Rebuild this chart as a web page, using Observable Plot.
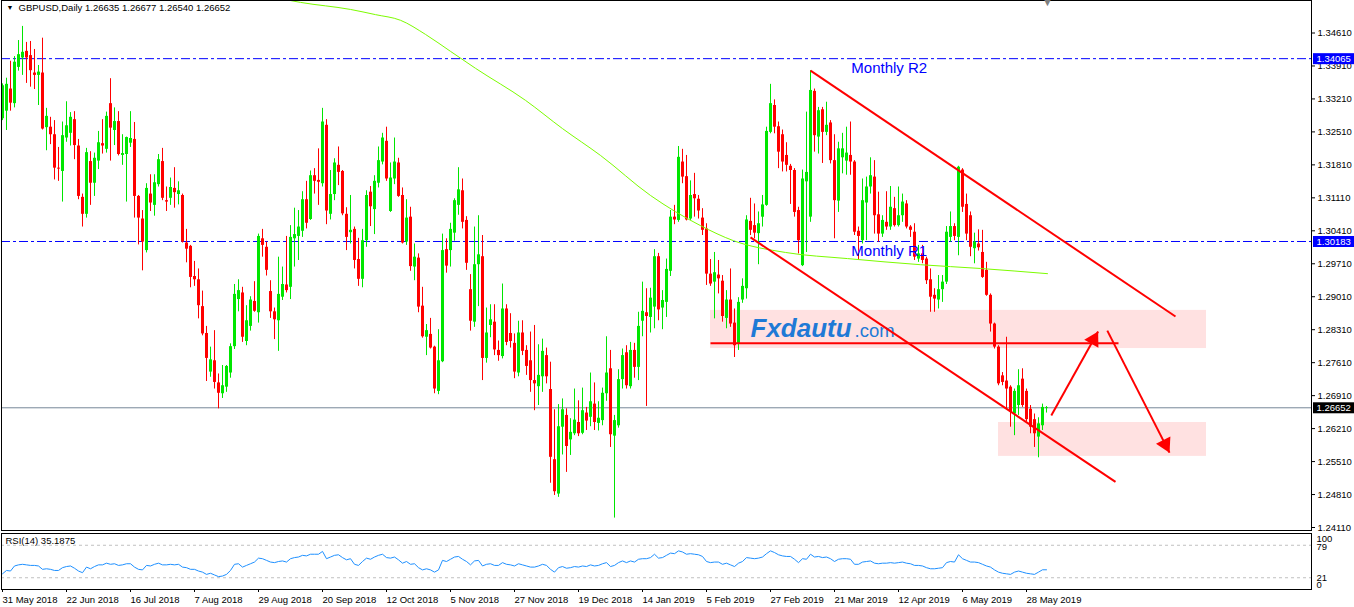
<!DOCTYPE html>
<html><head><meta charset="utf-8">
<script src="https://cdn.jsdelivr.net/npm/d3@7"></script>
<script src="https://cdn.jsdelivr.net/npm/@observablehq/plot@0.6"></script>
<style>
html,body{margin:0;padding:0;background:#fff;}
#chart{position:relative;width:1354px;height:607px;overflow:hidden;}
#chart svg{position:absolute;left:0;}
</style></head><body><div id="chart"></div>
<script>
// ---------- DATA ----------
const opens = [
1.3279,1.3295,1.3342,1.3311,1.3388,1.3408,1.3422,1.3413,1.3376,1.3371,
1.3376,1.3260,1.3261,1.3245,1.3174,1.3167,1.3238,1.3248,1.3277,1.3221,
1.3112,1.3076,1.3188,1.3142,1.3189,1.3226,1.3214,1.3311,1.3254,1.3273,
1.3201,1.3203,1.3227,1.3235,1.3114,1.3066,1.2999,1.3119,1.3095,1.3139,
1.3188,1.3105,1.3110,1.3131,1.3118,1.3116,1.3015,1.3008,1.2944,1.2937,
1.2880,1.2823,1.2741,1.2765,1.2718,1.2695,1.2709,1.2739,1.2795,1.2895,
1.2909,1.2806,1.2838,1.2891,1.2867,1.3024,1.3006,1.2912,1.2869,1.2850,
1.2900,1.2926,1.2921,1.3024,1.3029,1.3040,1.3107,1.3065,1.3158,1.3148,
1.3141,1.3265,1.3076,1.3118,1.3180,1.3167,1.3076,1.3037,1.3044,1.2980,
1.2938,1.3020,1.3123,1.3086,1.3142,1.3187,1.3231,1.3082,1.3151,1.3185,
1.3116,1.3017,1.3070,1.2964,1.2983,1.2881,1.2815,1.2821,1.2794,1.2700,
1.2763,1.3001,1.2999,1.3036,1.3095,1.3126,1.3063,1.2916,1.2847,1.2969,
1.2986,1.2770,1.2840,1.2847,1.2787,1.2774,1.2875,1.2823,1.2802,1.2739,
1.2824,1.2787,1.2765,1.2723,1.2710,1.2731,1.2776,1.2704,1.2555,1.2482,
1.2624,1.2649,1.2597,1.2610,1.2634,1.2611,1.2654,1.2645,1.2673,1.2632,
1.2638,1.2695,1.2748,1.2605,1.2627,1.2725,1.2782,1.2710,1.2787,1.2751,
1.2849,1.2867,1.2857,1.2879,1.2986,1.2877,1.2889,1.2955,1.3070,1.3063,
1.3187,1.3156,1.3066,1.3118,1.3108,1.3068,1.3045,1.2949,1.2932,1.2947,
1.2934,1.2855,1.2894,1.2845,1.2801,1.2894,1.2918,1.3061,1.3052,1.3035,
1.3070,1.3095,1.3250,1.3307,1.3262,1.3245,1.3201,1.3178,1.3169,1.3084,
1.2967,1.3145,1.3070,1.3337,1.3240,1.3298,1.3250,1.3270,1.3190,1.3104,
1.3196,1.3189,1.3201,1.3187,1.3040,1.3020,1.3100,1.3134,1.3155,1.3075,
1.3034,1.3059,1.3049,1.3088,1.3052,1.3073,1.3098,1.3049,1.3038,1.2981,
1.2992,1.2981,1.2937,1.2904,1.2894,1.2916,1.2932,1.3027,1.3050,1.3027,
1.3170,1.3097,1.3073,1.3003,1.3013,1.2995,1.2957,1.2904,1.2843,1.2794,
1.2733,1.2722,1.2709,1.2652,1.2670,1.2726,1.2700,1.2662,1.2640,1.2603,
1.2627,1.26635];
const highs = [
1.3353,1.3365,1.3401,1.3411,1.3445,1.3475,1.3441,1.3443,1.3426,1.3392,
1.3450,1.3301,1.3282,1.3275,1.3218,1.3272,1.3315,1.3292,1.3294,1.3235,
1.3119,1.3216,1.3209,1.3206,1.3252,1.3277,1.3293,1.3364,1.3302,1.3294,
1.3245,1.3240,1.3294,1.3271,1.3116,1.3084,1.3141,1.3160,1.3160,1.3203,
1.3216,1.3134,1.3153,1.3175,1.3145,1.3119,1.3044,1.3010,1.2976,1.2960,
1.2913,1.2838,1.2794,1.2829,1.2737,1.2755,1.2755,1.2801,1.2927,1.2937,
1.2921,1.2882,1.2901,1.2933,1.3034,1.3044,1.3017,1.2935,1.2877,1.2985,
1.2964,1.3029,1.3052,1.3089,1.3084,1.3124,1.3146,1.3168,1.3173,1.3215,
1.3301,1.3277,1.3169,1.3194,1.3219,1.3169,1.3090,1.3116,1.3049,1.3025,
1.3044,1.3126,1.3135,1.3158,1.3219,1.3248,1.3261,1.3185,1.3238,1.3195,
1.3132,1.3107,1.3091,1.3013,1.2992,1.2921,1.2842,1.2855,1.2796,1.2831,
1.3034,1.3024,1.3057,1.3109,1.3175,1.3151,1.3071,1.2948,1.3049,1.3073,
1.3031,1.2877,1.2884,1.2884,1.2807,1.2928,1.2884,1.2865,1.2822,1.2849,
1.2850,1.2797,1.2826,1.2840,1.2799,1.2811,1.2792,1.2762,1.2661,1.2672,
1.2684,1.2663,1.2642,1.2705,1.2680,1.2707,1.2666,1.2739,1.2718,1.2678,
1.2707,1.2816,1.2787,1.2649,1.2746,1.2790,1.2797,1.2804,1.2802,1.2868,
1.2932,1.2918,1.2919,1.3001,1.2993,1.2914,1.2981,1.3084,1.3095,1.3220,
1.3214,1.3201,1.3147,1.3163,1.3116,1.3088,1.3056,1.2980,1.2995,1.2978,
1.2946,1.2914,1.2960,1.2875,1.2899,1.2939,1.3073,1.3110,1.3098,1.3081,
1.3116,1.3261,1.3352,1.3319,1.3272,1.3255,1.3228,1.3182,1.3173,1.3091,
1.3170,1.3293,1.3381,1.3342,1.3303,1.3303,1.3314,1.3275,1.3245,1.3229,
1.3248,1.3261,1.3272,1.3190,1.3049,1.3151,1.3155,1.3196,1.3190,1.3123,
1.3073,1.3124,1.3135,1.3112,1.3134,1.3119,1.3105,1.3052,1.3056,1.3010,
1.3010,1.2985,1.2960,1.2918,1.2946,1.2946,1.3050,1.3081,1.3056,1.3178,
1.3173,1.3119,1.3081,1.3036,1.3043,1.3042,1.2974,1.2907,1.2845,1.2797,
1.2740,1.2815,1.2712,1.2705,1.2746,1.2748,1.2705,1.2670,1.2652,1.2644,
1.2673,1.26677];
const lows = [
1.3275,1.3254,1.3295,1.3302,1.3380,1.3371,1.3354,1.3346,1.3341,1.3307,
1.3255,1.3211,1.3224,1.3149,1.3146,1.3102,1.3229,1.3221,1.3192,1.3107,
1.3049,1.3068,1.3095,1.3114,1.3171,1.3204,1.3206,1.3189,1.3222,1.3200,
1.3180,1.3102,1.3218,1.3068,1.3011,1.2956,1.2994,1.3082,1.3072,1.3134,
1.3105,1.3082,1.3095,1.3089,1.3096,1.3015,1.2973,1.2920,1.2923,1.2854,
1.2818,1.2721,1.2730,1.2705,1.2663,1.2685,1.2698,1.2728,1.2789,1.2869,
1.2804,1.2797,1.2828,1.2868,1.2845,1.2985,1.2945,1.2855,1.2810,1.2785,
1.2893,1.2909,1.2895,1.2964,1.2978,1.3027,1.3045,1.3063,1.3119,1.3095,
1.3134,1.3054,1.3064,1.3105,1.3137,1.3073,1.2999,1.3013,1.2960,1.2923,
1.2920,1.3006,1.3050,1.3033,1.3132,1.3181,1.3146,1.3080,1.3139,1.3112,
1.3013,1.3010,1.2955,1.2935,1.2867,1.2813,1.2776,1.2790,1.2695,1.2693,
1.2761,1.2951,1.2964,1.3019,1.3074,1.3045,1.2957,1.2828,1.2836,1.2880,
1.2723,1.2760,1.2814,1.2776,1.2764,1.2769,1.2797,1.2792,1.2727,1.2731,
1.2776,1.2734,1.2698,1.2659,1.2670,1.2698,1.2716,1.2505,1.2479,1.2475,
1.2565,1.2528,1.2564,1.2606,1.2604,1.2608,1.2617,1.2625,1.2617,1.2616,
1.2627,1.2679,1.2581,1.2431,1.2622,1.2705,1.2705,1.2705,1.2728,1.2723,
1.2816,1.2668,1.2824,1.2833,1.2850,1.2831,1.2857,1.2944,1.3054,1.3059,
1.3141,1.3062,1.3063,1.3070,1.3066,1.3031,1.2925,1.2923,1.2854,1.2907,
1.2847,1.2833,1.2836,1.2772,1.2787,1.2887,1.2896,1.3031,1.3024,1.2969,
1.3049,1.3093,1.3247,1.3247,1.3173,1.3166,1.3166,1.3097,1.3070,1.2992,
1.2965,1.2995,1.3059,1.3208,1.3204,1.3184,1.3243,1.3183,1.3024,1.3080,
1.3162,1.3159,1.3159,1.3031,1.2978,1.3013,1.3020,1.3119,1.3034,1.3017,
1.3027,1.3042,1.3042,1.3049,1.3049,1.3059,1.3045,1.3027,1.2978,1.2974,
1.2971,1.2927,1.2868,1.2868,1.2875,1.2889,1.2927,1.3017,1.3020,1.2988,
1.3080,1.3020,1.2986,1.2971,1.2998,1.2940,1.2902,1.2826,1.2790,1.2712,
1.2712,1.2661,1.2624,1.2606,1.2649,1.2666,1.2636,1.2610,1.2581,1.2559,
1.2617,1.26540];
const closes = [
1.3349,1.3352,1.3312,1.3399,1.3415,1.3420,1.3408,1.3381,1.3371,1.3378,
1.3257,1.3284,1.3245,1.3174,1.3172,1.3243,1.3264,1.3282,1.3222,1.3114,
1.3076,1.3207,1.3142,1.3195,1.3228,1.3221,1.3284,1.3259,1.3273,1.3203,
1.3205,1.3239,1.3237,1.3114,1.3068,1.3017,1.3131,1.3100,1.3143,1.3192,
1.3110,1.3102,1.3133,1.3122,1.3126,1.3017,1.3002,1.2942,1.2937,1.2882,
1.2822,1.2770,1.2767,1.2719,1.2696,1.2712,1.2753,1.2795,1.2906,1.2914,
1.2815,1.2850,1.2894,1.2870,1.3029,1.3010,1.2957,1.2869,1.2852,1.2906,
1.2927,1.2914,1.3027,1.3033,1.3049,1.3107,1.3057,1.3158,1.3146,1.3144,
1.3272,1.3083,1.3118,1.3185,1.3165,1.3077,1.3027,1.3042,1.2978,1.2938,
1.3020,1.3116,1.3092,1.3146,1.3190,1.3238,1.3151,1.3153,1.3187,1.3114,
1.3015,1.3068,1.2965,1.2985,1.2879,1.2816,1.2829,1.2792,1.2705,1.2765,
1.2999,1.2966,1.3044,1.3105,1.3128,1.3059,1.2972,1.2849,1.2969,1.2990,
1.2770,1.2824,1.2852,1.2788,1.2776,1.2875,1.2804,1.2806,1.2741,1.2824,
1.2785,1.2753,1.2723,1.2716,1.2734,1.2785,1.2731,1.2560,1.2487,1.2625,
1.2661,1.2583,1.2613,1.2639,1.2610,1.2659,1.2637,1.2678,1.2634,1.2643,
1.2696,1.2739,1.2608,1.2638,1.2725,1.2776,1.2712,1.2787,1.2751,1.2838,
1.2870,1.2859,1.2898,1.2986,1.2873,1.2893,1.2959,1.3070,1.3064,1.3197,
1.3155,1.3064,1.3116,1.3109,1.3083,1.3042,1.2949,1.2928,1.2952,1.2939,
1.2859,1.2894,1.2843,1.2797,1.2889,1.2923,1.3064,1.3042,1.3036,1.3056,
1.3096,1.3252,1.3311,1.3261,1.3208,1.3187,1.3180,1.3169,1.3080,1.3020,
1.3151,1.3165,1.3339,1.3243,1.3296,1.3250,1.3265,1.3190,1.3105,1.3215,
1.3215,1.3206,1.3187,1.3038,1.3029,1.3105,1.3134,1.3158,1.3073,1.3034,
1.3063,1.3049,1.3091,1.3052,1.3073,1.3102,1.3049,1.3042,1.2985,1.2992,
1.2978,1.2935,1.2900,1.2896,1.2916,1.2932,1.3038,1.3050,1.3029,1.3176,
1.3091,1.3034,1.3006,1.3017,1.3005,1.2942,1.2904,1.2843,1.2794,1.2716,
1.2719,1.2705,1.2656,1.2700,1.2712,1.2670,1.2640,1.2624,1.2610,1.2631,
1.2666,1.26652];
const rsiValues = [
28,34,33,42,44,45,44,43,43,42,
36,37,36,34,34,39,41,42,38,33,
30,40,37,41,44,44,47,45,46,43,
44,46,46,40,36,35,43,42,45,47,
44,44,45,44,45,40,39,36,36,33,
31,27,29,26,23,24,27,34,45,46,
40,43,46,49,56,55,52,49,48,50,
51,49,55,57,58,61,60,63,63,63,
68,55,58,61,62,57,53,55,45,43,
50,56,54,58,61,63,57,56,58,53,
47,50,45,46,39,35,37,35,31,35,
52,50,54,58,59,54,50,44,51,52,
42,45,46,43,43,48,45,44,42,46,
44,42,40,40,42,45,43,36,31,39,
41,38,39,41,40,42,41,44,42,43,
46,48,41,43,48,51,48,51,49,54,
55,55,57,63,56,57,61,65,64,69,
67,63,64,63,62,59,50,48,49,49,
45,47,44,41,47,50,57,56,55,56,
58,64,69,66,62,60,59,59,54,48,
55,54,63,58,59,57,58,55,50,54,
55,55,54,45,45,49,50,51,47,46,
47,47,48,47,48,49,47,46,43,43,
42,39,37,37,38,39,48,50,49,62,
55,52,49,49,48,45,42,40,35,31,
29,28,27,31,33,31,29,28,27,31,
35.2,35.1875];
// 200-day moving average (read along its drawn path)
const maIdx = [69.5, 74.5, 87, 93.25, 99.5, 105.75, 112, 118.25, 130.75, 140, 149.5, 162, 174.5, 182.75, 195.75, 211.25, 229.5, 244.5, 261.25];
const maVal = [1.3534, 1.3526, 1.3511, 1.3500, 1.3488, 1.3458, 1.3422, 1.3386, 1.3318, 1.3258, 1.3201, 1.3116, 1.3052, 1.3020, 1.2995, 1.2982, 1.2969, 1.2961, 1.2950];
// axis ticks
const priceTicks = [1.24110,1.24810,1.25510,1.26210,1.26910,1.27610,1.28310,1.29010,1.29710,1.30410,1.31110,1.31810,1.32510,1.33210,1.33910,1.34610];
const dateTickIdx = [0,16,32,48,64,80,96,112,128,144,160,176,192,208,224,240,256];
const dateTickLabels = ["31 May 2018","22 Jun 2018","16 Jul 2018","7 Aug 2018","29 Aug 2018","20 Sep 2018","12 Oct 2018","5 Nov 2018","27 Nov 2018","19 Dec 2018","14 Jan 2019","5 Feb 2019","27 Feb 2019","21 Mar 2019","12 Apr 2019","6 May 2019","28 May 2019"];
const rsiLevels = [79, 21];
// annotations
const pivotLevels = [1.34065, 1.30183];
const pivotNames = ["Monthly R2", "Monthly R1"];
const pivotLabelIdx = [212.2, 212.2];
const pivotLabelPrice = [1.3377, 1.2988];
const currentPrice = 1.26652;
const titleText = "GBPUSD,Daily 1.26635 1.26677 1.26540 1.26652";
const rsiTitle = "RSI(14) 35.1875";
const zoneX1 = [177, 249], zoneX2 = [301, 301], zoneLow = [1.2791, 1.2562], zoneHigh = [1.2872, 1.2634];
const chanX1 = [202, 187], chanY1 = [1.3381, 1.3027], chanX2 = [293.25, 278.25], chanY2 = [1.2859, 1.2508];
const levelX = [177, 279], levelPrice = 1.2802;
const arrX1 = [262.2, 276.2], arrY1 = [1.2649, 1.2829], arrX2 = [273.9, 291.75], arrY2 = [1.2827, 1.2570];
const arrRotate = [29, 153];
const brandIdx = [187, 213], brandPrice = 1.2816, brandText = ["Fxdautu", ".com"];
const shiftMarkIdx = 261.25;

// ---------- BUILD ----------
const W = 1354;
const FONT = '"Liberation Sans", Arial, sans-serif';
const GREEN = "#00e600", RED = "#ff0000";
const xDomain = [-0.25, 327.25];
const candles = opens.map((o, i) => ({i, o, h: highs[i], l: lows[i], c: closes[i]}));
const upC = candles.filter(d => d.c >= d.o), dnC = candles.filter(d => d.c < d.o);
const ma = maIdx.map((x, k) => ({x, y: maVal[k]}));
const zones = zoneX1.map((x, k) => ({x1: x, x2: zoneX2[k], y1: zoneLow[k], y2: zoneHigh[k]}));
const chans = chanX1.map((x, k) => ({x1: x, y1: chanY1[k], x2: chanX2[k], y2: chanY2[k]}));
const arrows = arrX1.map((x, k) => ({x1: x, y1: arrY1[k], x2: arrX2[k], y2: arrY2[k], r: arrRotate[k]}));
const pivLabels = pivotNames.map((t, k) => ({t, x: pivotLabelIdx[k], y: pivotLabelPrice[k]}));

const main = Plot.plot({
  width: W, height: 531,
  marginLeft: 1, marginRight: 43, marginTop: 0, marginBottom: 1,
  style: {fontFamily: FONT, fontSize: "9.5px", color: "#000", background: "#fff", overflow: "visible"},
  x: {type: "linear", domain: xDomain, axis: null},
  y: {domain: [1.240463, 1.353001]},
  marks: [
    Plot.rect(zones, {x1: "x1", x2: "x2", y1: "y1", y2: "y2", fill: "#ffe1e1"}),
    Plot.ruleY(pivotLevels, {stroke: "#0000ff", strokeWidth: 1, strokeDasharray: "9,3,3,3"}),
    Plot.ruleY([currentPrice], {stroke: "#778899", strokeWidth: 1}),
    Plot.ruleX(upC, {x: "i", y1: "l", y2: "h", stroke: GREEN, strokeWidth: 1}),
    Plot.ruleX(dnC, {x: "i", y1: "l", y2: "h", stroke: RED, strokeWidth: 1}),
    Plot.ruleX(upC, {x: "i", y1: "o", y2: "c", stroke: GREEN, strokeWidth: 3}),
    Plot.ruleX(dnC, {x: "i", y1: "o", y2: "c", stroke: RED, strokeWidth: 3}),
    Plot.line(ma, {x: "x", y: "y", stroke: "#7cfc00", strokeWidth: 1, curve: "monotone-x", clip: true}),
    Plot.text([brandText[0]], {x: () => brandIdx[0], y: () => brandPrice, text: d => d, textAnchor: "start", lineAnchor: "bottom", fontSize: 26, fontWeight: "bold", fontStyle: "italic", fill: "#1f7ad6"}),
    Plot.text([brandText[1]], {x: () => brandIdx[1], y: () => brandPrice, text: d => d, textAnchor: "start", lineAnchor: "bottom", fontSize: 18.5, fill: "#1f7ad6"}),
    Plot.text(pivLabels, {x: "x", y: "y", text: "t", textAnchor: "start", lineAnchor: "bottom", fontSize: 15, fill: "#0000ff"}),
    Plot.link(chans, {x1: "x1", y1: "y1", x2: "x2", y2: "y2", stroke: RED, strokeWidth: 2}),
    Plot.link([levelPrice], {x1: () => levelX[0], x2: () => levelX[1], y1: d => d, y2: d => d, stroke: RED, strokeWidth: 2}),
    Plot.link(arrows, {x1: "x1", y1: "y1", x2: "x2", y2: "y2", stroke: RED, strokeWidth: 2}),
    Plot.dot([arrows[0]], {x: "x2", y: "y2", symbol: "triangle", r: 6, rotate: "r", fill: RED, stroke: "none", dx: -4.5, dy: 8.1}),
    Plot.dot([arrows[1]], {x: "x2", y: "y2", symbol: "triangle", r: 6, rotate: "r", fill: RED, stroke: "none", dx: -4.2, dy: -8.3}),
    Plot.axisY({anchor: "right", ticks: priceTicks, tickFormat: d => d.toFixed(5), tickSize: 3, tickPadding: 3, label: null, fontSize: 9.5}),
    Plot.frame({stroke: "#000"}),
    Plot.text([titleText], {frameAnchor: "top-left", dx: 17, dy: 4, lineAnchor: "top", fontSize: 9.5, fill: "#000"}),
    Plot.text(["▼"], {frameAnchor: "top-left", dx: 5, dy: 5, lineAnchor: "top", fontSize: 7, fill: "#000"}),
    Plot.text(["▼"], {x: () => shiftMarkIdx, frameAnchor: "top", lineAnchor: "top", dy: -2, fontSize: 11, fill: "#808080"})
  ]
});

// price tags on the right axis, positioned via Plot's own scales
(function addTags() {
  const yS = main.scale("y"), xS = main.scale("x");
  const left = xS.apply(xDomain[1]) + 2;
  const svg = d3.select(main);
  const tags = [{v: pivotLevels[0], bg: "#0000ff"}, {v: pivotLevels[1], bg: "#0000ff"}, {v: currentPrice, bg: "#000000"}];
  tags.forEach(t => {
    const yy = yS.apply(t.v);
    const g = svg.append("g").attr("text-anchor", "start");
    g.append("rect").attr("x", left).attr("y", yy - 5).attr("width", W - left).attr("height", 11).attr("fill", t.bg);
    g.append("text").attr("x", left + 3.5).attr("y", yy + 4).attr("fill", "#fff").attr("text-anchor", "start")
      .attr("font-family", FONT).attr("font-size", "9.5px").text(t.v.toFixed(5));
  });
})();

const rsiPlot = Plot.plot({
  width: W, height: 76,
  marginLeft: 1, marginRight: 43, marginTop: 2, marginBottom: 18,
  style: {fontFamily: FONT, fontSize: "9.5px", color: "#000", background: "#fff"},
  x: {type: "linear", domain: xDomain},
  y: {domain: [0, 100], axis: null},
  marks: [
    Plot.ruleY(rsiLevels, {stroke: "#c0c0c0", strokeDasharray: "3,3"}),
    Plot.line(rsiValues, {x: (d, i) => i, y: d => d, stroke: "#1e90ff", strokeWidth: 1}),
    Plot.axisX({ticks: dateTickIdx, tickFormat: d => dateTickLabels[dateTickIdx.indexOf(d)], tickSize: 3, tickPadding: 4, textAnchor: "start", label: null, fontSize: 9.5}),
    Plot.frame({stroke: "#000"}),
    Plot.text([rsiTitle], {frameAnchor: "top-left", dx: 4, dy: 4, lineAnchor: "top", fontSize: 9.5, fill: "#000"}),
    Plot.text([100], {y: d => d, text: d => String(d), frameAnchor: "right", dx: 5, dy: 5, textAnchor: "start", fontSize: 9.5, fill: "#000"}),
    Plot.text([79], {y: d => d, text: d => String(d), frameAnchor: "right", dx: 5, dy: 2, textAnchor: "start", fontSize: 9.5, fill: "#000"}),
    Plot.text([21], {y: d => d, text: d => String(d), frameAnchor: "right", dx: 5, dy: 0, textAnchor: "start", fontSize: 9.5, fill: "#000"}),
    Plot.text([0], {y: d => d, text: d => String(d), frameAnchor: "right", dx: 5, dy: -5, textAnchor: "start", fontSize: 9.5, fill: "#000"})
  ]
});

const host = document.getElementById("chart");
main.style.top = "0px";
rsiPlot.style.top = "531px";
host.appendChild(rsiPlot);
host.appendChild(main);
</script>
</body></html>
